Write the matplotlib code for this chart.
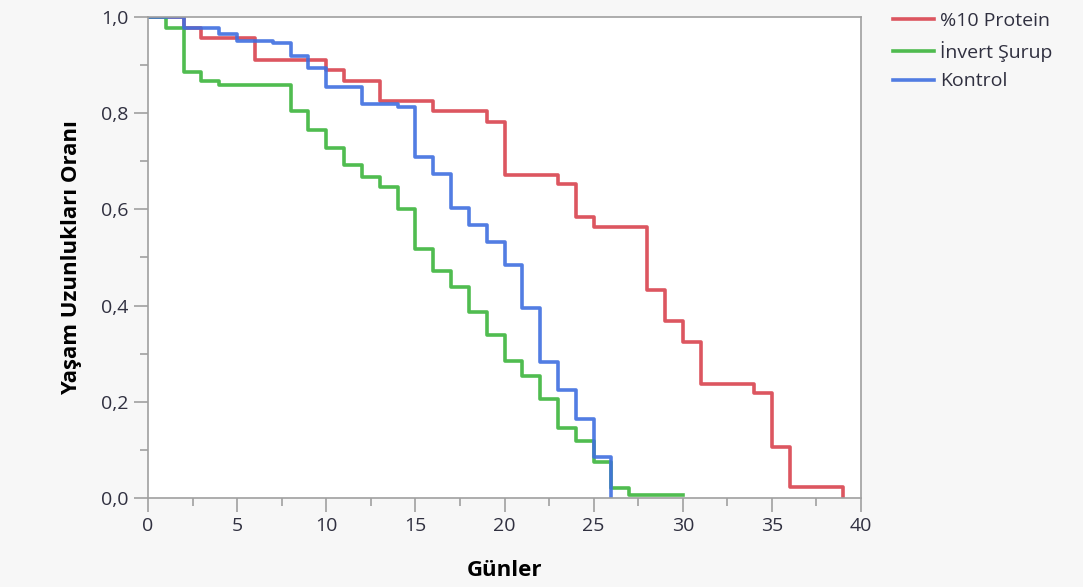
import matplotlib
matplotlib.use("Agg")
import matplotlib.pyplot as plt
from matplotlib.ticker import MultipleLocator, FuncFormatter

# Data (Kaplan-Meier style step curves)
protein_t = [0, 2, 3, 6, 10, 11, 13, 16, 19, 20, 23, 24, 25, 28, 29, 30, 31, 34, 35, 36, 39]
protein_s = [1.0, 0.978, 0.956, 0.911, 0.889, 0.867, 0.826, 0.804, 0.782, 0.672, 0.652,
             0.585, 0.564, 0.433, 0.369, 0.325, 0.238, 0.218, 0.107, 0.022, 0.0]

invert_t = [0, 1, 2, 3, 4, 8, 9, 10, 11, 12, 13, 14, 15, 16, 17, 18, 19, 20, 21, 22, 23,
            24, 25, 26, 27, 30]
invert_s = [1.0, 0.977, 0.886, 0.867, 0.859, 0.805, 0.765, 0.727, 0.692, 0.668, 0.646,
            0.600, 0.517, 0.472, 0.438, 0.386, 0.339, 0.284, 0.253, 0.205, 0.145,
            0.119, 0.074, 0.021, 0.007, 0.007]

kontrol_t = [0, 2, 4, 5, 7, 8, 9, 10, 12, 14, 15, 16, 17, 18, 19, 20, 21, 22, 23, 24, 25, 26]
kontrol_s = [1.0, 0.977, 0.965, 0.951, 0.945, 0.919, 0.893, 0.854, 0.820, 0.813, 0.708,
             0.674, 0.602, 0.568, 0.533, 0.484, 0.396, 0.283, 0.225, 0.164, 0.085, 0.0]

labels = ["%10 Protein", "İnvert Şurup", "Kontrol"]
colors = ["#d9434f", "#3db53d", "#3f6fe0"]

plt.rcParams['font.family'] = ['Open Sans', 'DejaVu Sans']

fig = plt.figure(figsize=(10.83, 5.87), dpi=100, facecolor="#f7f7f7")
ax = fig.add_axes([148/1083, 1 - 498/587, (861-148)/1083, (498-17)/587])
ax.set_facecolor("white")

for t, s, lab, c in zip([protein_t, invert_t, kontrol_t],
                        [protein_s, invert_s, kontrol_s], labels, colors):
    ax.step(t, s, where="post", color=c, lw=2.6, label=lab, alpha=0.9)

ax.set_xlim(0, 40)
ax.set_ylim(0, 1.0)
ax.xaxis.set_major_locator(MultipleLocator(5))
ax.xaxis.set_minor_locator(MultipleLocator(2.5))
ax.yaxis.set_major_locator(MultipleLocator(0.2))
ax.yaxis.set_minor_locator(MultipleLocator(0.1))
ax.yaxis.set_major_formatter(FuncFormatter(lambda v, p: f"{v:.1f}".replace(".", ",")))

for sp in ax.spines.values():
    sp.set_color("#a0a0a0")
    sp.set_linewidth(1.2)
ax.tick_params(which="major", length=10, width=1.2, color="#a0a0a0",
               labelsize=14, labelcolor="#303040", pad=4)
ax.tick_params(which="minor", length=6, width=1.2, color="#a0a0a0")

ax.set_xlabel("Günler", fontsize=16, fontweight="bold", labelpad=18)
ax.set_ylabel("Yaşam Uzunlukları Oranı", fontsize=16, fontweight="bold", labelpad=14)

leg = fig.legend(loc="upper left", bbox_to_anchor=(893/1083, 1 - 12/587), frameon=False,
                 fontsize=14, handlelength=2.1, handletextpad=0.3, labelspacing=0.55,
                 borderaxespad=0, borderpad=0)
for txt in leg.get_texts():
    txt.set_color("#303040")

fig.savefig("out.png", dpi=100, facecolor=fig.get_facecolor())
